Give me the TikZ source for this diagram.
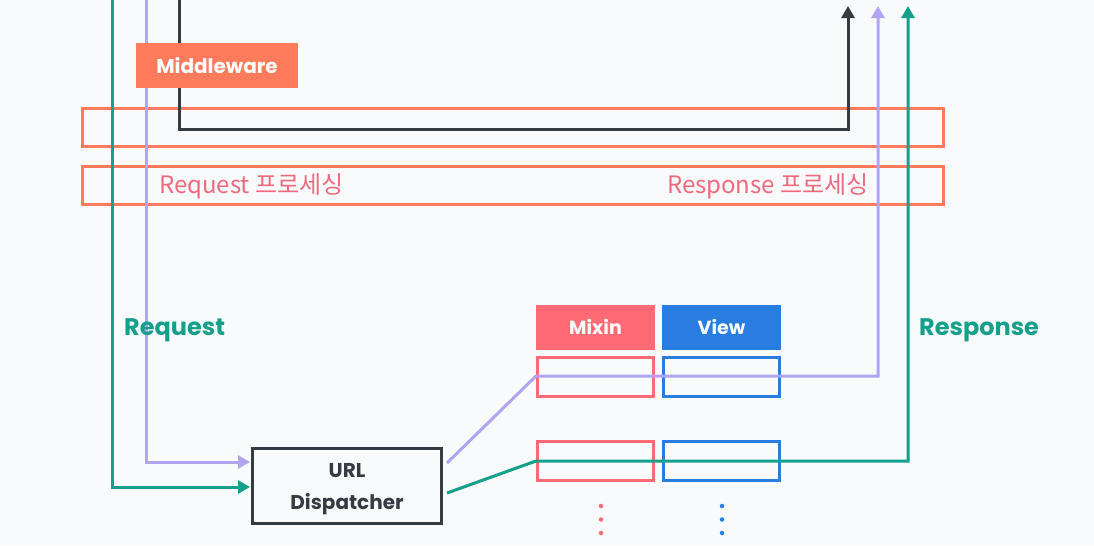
\documentclass[tikz,border=0pt]{standalone}
\usepackage{fontspec}
\usetikzlibrary{arrows.meta,calc}
\newfontfamily\pop{Poppins}
\newfontfamily\kr{Noto Sans CJK KR}
\definecolor{bgc}{HTML}{F8FAFC}
\definecolor{grn}{HTML}{14A08A}
\definecolor{prp}{HTML}{B1A5F2}
\definecolor{drk}{HTML}{363A42}
\definecolor{org}{HTML}{FF7B5C}
\definecolor{mxr}{HTML}{FF6A74}
\definecolor{vwb}{HTML}{2A7DE0}
\definecolor{pnk}{HTML}{F06A7C}
\tikzset{
  line/.style={line width=3pt},
  tip/.style={-{Triangle[width=13pt,length=12pt]}},
  bar/.style={draw=org,line width=3pt,minimum width=861pt,minimum height=38pt,inner sep=0pt},
  hdr/.style={minimum width=119pt,minimum height=45pt,inner sep=0pt,text=white,font=\pop\bfseries\fontsize{19}{22}\selectfont},
  cell/.style={line width=3pt,minimum width=116pt,minimum height=39pt,inner sep=0pt},
  lbl/.style={font=\pop\bfseries\fontsize{24}{28}\selectfont,text=grn,inner sep=0pt},
  proc/.style={font=\kr\fontsize{24}{28}\selectfont,text=pnk,inner sep=0pt},
  dotc/.style={circle,inner sep=0pt,minimum size=4.5pt}
}
\begin{document}
\begin{tikzpicture}[x=1pt,y=-1pt]
\fill[bgc] (0,0) rectangle (1094,546);
\useasboundingbox (0,0) rectangle (1094,546);
% bars
\node[bar] (bar1) at (513,127.5) {};
\node[bar] (bar2) at (513,185.5) {};
% boxes
\node[draw=drk,line width=3pt,minimum width=189pt,minimum height=75pt,inner sep=0pt] (url) at (347,486) {};
\node[align=center,text=drk,inner sep=0pt,font=\pop\bfseries\fontsize{20}{32}\selectfont]
      (urltxt) at ([yshift=-3pt]url.center) {URL\\Dispatcher};
\node[hdr,fill=mxr] (mixh) at (595.5,327) {Mixin};
\node[hdr,fill=vwb] (viewh) at (721.5,327) {View};
\node[cell,draw=mxr] (mix1) at (595.5,377) {};
\node[cell,draw=vwb] (view1) at (721.5,377) {};
\node[cell,draw=mxr] (mix2) at (595.5,461) {};
\node[cell,draw=vwb] (view2) at (721.5,461) {};
% coordinates
\coordinate (gtop) at (112,-3);
\coordinate (ptop) at (146,-3);
\coordinate (dtop) at (179,-3);
\coordinate (dturn) at (848,129);
\coordinate (dend) at (848,6);
\coordinate (pturn) at (878,376);
\coordinate (pend) at (878,6);
\coordinate (gturn) at (908,461);
\coordinate (gend) at (908,6);
% lines
\draw[line,grn,tip,shorten >=1pt] (gtop) |- ([yshift=-1pt]url.west);
\draw[line,prp,tip,shorten >=1pt] (ptop) |- ([yshift=24pt]url.west);
\draw[line,drk,tip] (dtop) |- (dturn) -- (dend);
\draw[line,prp,tip] ([xshift=4pt,yshift=23pt]url.east) -- ([yshift=1pt]mix1.west) -- (pturn) -- (pend);
\draw[line,grn,tip] ([xshift=4pt,yshift=-7pt]url.east) -- (mix2.west) -- (gturn) -- (gend);
% middleware
\node[fill=org,minimum width=162pt,minimum height=45pt,inner sep=0pt,text=white,
      font=\pop\bfseries\fontsize{20}{24}\selectfont] (mw) at (217,65.5) {Middleware};
% labels
\node[proc,anchor=west] (reqp) at (159,186) {Request 프로세싱};
\node[proc,anchor=east] (resp) at (869,186) {Response 프로세싱};
\node[lbl,anchor=west] (reql) at (124,330) {Request};
\node[lbl,anchor=west] (resl) at (919,330) {Response};
% dots
\foreach \i/\yy in {1/506,2/519.5,3/533}{
  \node[dotc,fill=mxr] (md\i) at (601,\yy) {};
  \node[dotc,fill=vwb] (vd\i) at (722,\yy) {};
}
\end{tikzpicture}
\end{document}
